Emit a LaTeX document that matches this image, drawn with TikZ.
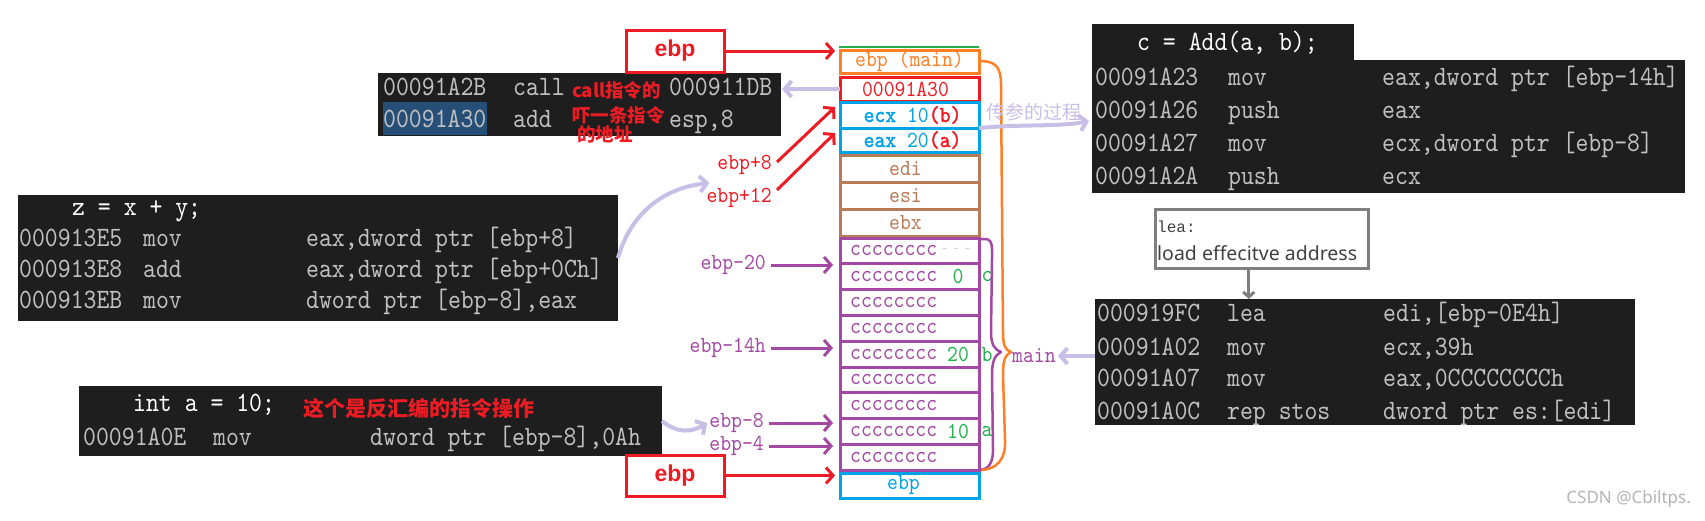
\documentclass[tikz,border=0pt]{standalone}
\usepackage{fontspec}
\usetikzlibrary{arrows.meta,calc}
\newfontfamily\codefont[FakeStretch=0.877]{lmmono10-regular.otf}
\newfontfamily\stackfont[FakeStretch=0.9, BoldFont=lmmono10-regular.otf, BoldFeatures={FakeBold=1.6}]{lmmono10-regular.otf}
\newfontfamily\cjk{Noto Sans CJK SC}
\newfontfamily\sansf{Liberation Sans}
\newfontfamily\notof{Noto Sans}
\newfontfamily\leamono{Liberation Mono}
\definecolor{codebg}{HTML}{1E1E1E}
\definecolor{codegray}{HTML}{C0C0C0}
\definecolor{selblue}{HTML}{264F78}
\definecolor{cred}{HTML}{ED1C24}
\definecolor{corange}{HTML}{FF7F27}
\definecolor{cblue}{HTML}{00A2E8}
\definecolor{cbrown}{HTML}{B97A57}
\definecolor{cpurple}{HTML}{A349A4}
\definecolor{cgreen}{HTML}{22B14C}
\definecolor{clav}{HTML}{C8BFE7}
\definecolor{cgrayb}{HTML}{7F7F7F}
\definecolor{wmgray}{HTML}{B4B4B4}
\tikzset{
  blk/.style={fill=codebg, draw=none, inner sep=0pt, outer sep=0pt, anchor=north west},
  ct/.style={font=\codefont\fontsize{28}{28}\selectfont, text=codegray, inner sep=0pt, anchor=base west},
  cth/.style={ct, text=white},
  cell/.style={draw, line width=3pt, minimum width=139pt, inner sep=0pt, outer sep=0pt, anchor=north west},
  st/.style={font=\stackfont\fontsize{23}{23}\selectfont, inner sep=0pt},
  lbl/.style={font=\stackfont\fontsize{23}{23}\selectfont, inner sep=0pt, anchor=east},
  redbox/.style={draw=cred, line width=3pt, minimum width=98pt, minimum height=42pt, inner sep=0pt, font=\sansf\bfseries\fontsize{23}{23}\selectfont, text=cred},
  tipb/.style={-{Straight Barb[length=7pt,width=16pt]}},
  redarr/.style={tipb, draw=cred, line width=3pt},
  parr/.style={tipb, draw=cpurple, line width=3pt},
  lavarr/.style={tipb, draw=clav, line width=4pt},
  grayarr/.style={-{Straight Barb[length=5pt,width=11pt]}, draw=cgrayb, line width=3pt},
  note/.style={font=\cjk\bfseries\fontsize{18.5}{18.5}\selectfont, text=cred, inner sep=0pt, anchor=west},
  leat/.style={font=\notof\fontsize{19.5}{19.5}\selectfont, text=black!75, inner sep=0pt, anchor=west},
}
\begin{document}
\begin{tikzpicture}[x=1pt,y=-1pt]
\useasboundingbox[fill=white] (0,0) rectangle (1705,520);

% ---------- code block 1 ----------
\node[blk, minimum width=403pt, minimum height=63pt] (b1) at (378,73) {};
\node[fill=selblue, inner sep=0pt, minimum width=104pt, minimum height=33pt, anchor=north west] (sel) at (383,102) {};
\node[ct] (b1r1a) at (383,95.5) {00091A2B};
\node[ct] (b1r1b) at (513,95.5) {call};
\node[ct] (b1r1c) at (669,95.5) {000911DB};
\node[ct] (b1r2a) at (383,127.5) {00091A30};
\node[ct] (b1r2b) at (513,127.5) {add};
\node[ct] (b1r2c) at (669,127.5) {esp,8};
\node[note] (n1) at (572,90) {call指令的};
\node[note] (n2) at (572,115) {吓一条指令};
\node[note] (n3) at (577,134) {的地址};

% ---------- code block 2 ----------
\node[blk, minimum width=600pt, minimum height=126pt] (b2) at (18,195) {};
\node[cth] (b2h) at (72,215.5) {z = x + y;};
\node[ct] (b2r1a) at (19,246.5) {000913E5};
\node[ct] (b2r1b) at (143,246.5) {mov};
\node[ct] (b2r1c) at (306,246.5) {eax,dword ptr [ebp+8]};
\node[ct] (b2r2a) at (19,277.5) {000913E8};
\node[ct] (b2r2b) at (143,277.5) {add};
\node[ct] (b2r2c) at (306,277.5) {eax,dword ptr [ebp+0Ch]};
\node[ct] (b2r3a) at (19,308.5) {000913EB};
\node[ct] (b2r3b) at (143,308.5) {mov};
\node[ct] (b2r3c) at (306,308.5) {dword ptr [ebp-8],eax};

% ---------- code block 3 ----------
\node[blk, minimum width=583pt, minimum height=70pt] (b3) at (79,386) {};
\node[cth] (b3h) at (133,411.5) {int a = 10;};
\node[note, font=\cjk\bfseries\fontsize{21}{21}\selectfont] (n4) at (303,408) {这个是反汇编的指令操作};
\node[ct] (b3r1a) at (83,445.5) {00091A0E};
\node[ct] (b3r1b) at (213,445.5) {mov};
\node[ct] (b3r1c) at (370,445.5) {dword ptr [ebp-8],0Ah};

% ---------- code block 4 ----------
\node[blk, minimum width=262pt, minimum height=37pt] (b4t) at (1092,24) {};
\node[blk, minimum width=593pt, minimum height=133pt] (b4) at (1092,60) {};
\node[cth] (b4h) at (1137,50.5) {c = Add(a, b);};
\node[ct] (b4r1a) at (1095,85.5) {00091A23};
\node[ct] (b4r1b) at (1228,85.5) {mov};
\node[ct] (b4r1c) at (1382,85.5) {eax,dword ptr [ebp-14h]};
\node[ct] (b4r2a) at (1095,118.5) {00091A26};
\node[ct] (b4r2b) at (1228,118.5) {push};
\node[ct] (b4r2c) at (1382,118.5) {eax};
\node[ct] (b4r3a) at (1095,151.5) {00091A27};
\node[ct] (b4r3b) at (1228,151.5) {mov};
\node[ct] (b4r3c) at (1382,151.5) {ecx,dword ptr [ebp-8]};
\node[ct] (b4r4a) at (1095,184.5) {00091A2A};
\node[ct] (b4r4b) at (1228,184.5) {push};
\node[ct] (b4r4c) at (1382,184.5) {ecx};

% ---------- code block 5 ----------
\node[blk, minimum width=540pt, minimum height=126pt] (b5) at (1095,299) {};
\node[ct] (b5r1a) at (1097,321.5) {000919FC};
\node[ct] (b5r1b) at (1227,321.5) {lea};
\node[ct] (b5r1c) at (1383,321.5) {edi,[ebp-0E4h]};
\node[ct] (b5r2a) at (1097,355.5) {00091A02};
\node[ct] (b5r2b) at (1227,355.5) {mov};
\node[ct] (b5r2c) at (1383,355.5) {ecx,39h};
\node[ct] (b5r3a) at (1097,386.5) {00091A07};
\node[ct] (b5r3b) at (1227,386.5) {mov};
\node[ct] (b5r3c) at (1383,386.5) {eax,0CCCCCCCCh};
\node[ct] (b5r4a) at (1097,419.5) {00091A0C};
\node[ct] (b5r4b) at (1227,419.5) {rep stos};
\node[ct] (b5r4c) at (1383,419.5) {dword ptr es:[edi]};

% ---------- lea note ----------
\node[draw=cgrayb, line width=2.5pt, minimum width=213pt, minimum height=59pt, inner sep=0pt, anchor=north west] (leab) at (1154,208) {};
\node[leat, font=\leamono\fontsize{16}{16}\selectfont] (lea1) at (1157,227) {lea:};
\node[leat] (lea2) at (1157,253) {load effecitve address};
\coordinate (g1) at ([xshift=-13pt]leab.south);
\draw[grayarr] (g1) -- (g1 |- b5.north);

% ---------- stack ----------
\draw[cgreen, line width=2pt] (839,47) -- (979,47);
\node[cell, draw=corange, minimum height=23pt] (om) at (840,50) {};
\node[cell, draw=cred, minimum height=24pt] (ra) at (840,77) {};
\node[cell, draw=cblue, minimum height=26pt] (ecx) at (840,102) {};
\node[cell, draw=cblue, minimum height=24pt] (eax) at (840,128) {};
\node[cell, draw=cbrown, minimum height=27pt] (edi) at (840,155) {};
\node[cell, draw=cbrown, minimum height=27pt] (esi) at (840,182) {};
\node[cell, draw=cbrown, minimum height=27pt] (ebx) at (840,209) {};
\foreach \i/\y in {1/238,2/263.8,3/289.6,4/315.4,5/341.2,6/367,7/392.8,8/418.6,9/444.4}{
  \node[cell, draw=cpurple, minimum height=25.8pt] (p\i) at (840,\y) {};
  \node[st, text=cpurple, anchor=west] (tp\i) at ($(p\i.west)+(10,0)$) {cccccccc};
}
\node[cell, draw=cblue, minimum height=25pt] (eb) at (840,473) {};

\node[st, text=corange] (tom) at (om.center) {ebp (main)};
\node[st, text=cred] (tra) at ($(ra.center)+(-4,0)$) {00091A30};
\node[st] (tecx) at ($(ecx.center)+(3,0)$) {\textcolor{cblue}{\bfseries ecx} \textcolor{cblue}{10}\textcolor{cred}{\bfseries(b)}};
\node[st] (teax) at ($(eax.center)+(3,0)$) {\textcolor{cblue}{\bfseries eax} \textcolor{cblue}{20}\textcolor{cred}{\bfseries(a)}};
\node[st, text=cbrown] (tedi) at ($(edi.center)+(-4,0)$) {edi};
\node[st, text=cbrown] (tesi) at ($(esi.center)+(-4,0)$) {esi};
\node[st, text=cbrown] (tebx) at ($(ebx.center)+(-4,0)$) {ebx};
\node[st, text=cblue] (teb) at ($(eb.center)+(-6,0)$) {ebp};
\node[st, text=clav, font=\stackfont\fontsize{12}{12}\selectfont] (dots) at ($(p1.east)+(-23,0)$) {- - -};
\node[st, text=cgreen] (v0) at ($(p2.east)+(-21,0)$) {0};
\node[st, text=cgreen] (v20) at ($(p5.east)+(-21,0)$) {20};
\node[st, text=cgreen] (v10) at ($(p8.east)+(-21,0)$) {10};
\node[st, text=cgreen] (lc) at ($(p2.east)+(8,0)$) {c};
\node[st, text=cgreen] (lb) at ($(p5.east)+(8,0)$) {b};
\node[st, text=cgreen] (la) at ($(p8.east)+(8,0)$) {a};
\node[st, text=cpurple, anchor=west] (mainl) at (1012,356) {main};

% braces
\draw[cpurple, line width=2.5pt, line join=round]
  (979,239) -- (986,239) .. controls (993,240) and (992,248) .. (992,258)
  -- (991,332) .. controls (991,345) and (995,350) .. (1001,352)
  .. controls (995,355) and (992,361) .. (992,374)
  -- (993,450) .. controls (993,462) and (989,470) .. (979,470);
\draw[corange, line width=2.5pt, line join=round]
  (979,61) .. controls (995,61) and (1001,66) .. (1001,85)
  -- (1003,332) .. controls (1003,345) and (1005,350) .. (1011,352)
  .. controls (1005,355) and (1003,360) .. (1003,375)
  -- (1005,440) .. controls (1006,460) and (996,469) .. (982,470);

% ---------- labels ----------
\node[redbox] (ebpT) at (675,51) {ebp};
\node[redbox, minimum height=41pt] (ebpB) at (675,475.5) {ebp};
\node[lbl, text=cred] (ep8) at (772,165) {ebp+8};
\node[lbl, text=cred] (ep12) at (772,198) {ebp+12};
\node[lbl, text=cpurple] (l20) at (766,265) {ebp-20};
\node[lbl, text=cpurple] (l14) at (766,348) {ebp-14h};
\node[lbl, text=cpurple] (l8) at (764,423) {ebp-8};
\node[lbl, text=cpurple] (l4) at (764,446) {ebp-4};
\node[font=\cjk\fontsize{19}{19}\selectfont, text=clav, inner sep=0pt] (cc) at (1034,112) {传参的过程};
\node[font=\notof\fontsize{17}{17}\selectfont, text=wmgray, inner sep=0pt, anchor=east] (wm) at (1691,499) {CSDN @Cbiltps.};

% ---------- arrows ----------
\draw[redarr, shorten >=5pt] (ebpT.east) -- (ebpT.east -| om.west);
\draw[redarr, shorten >=5pt] (ebpB.east) -- (ebpB.east -| eb.west);
\draw[redarr] ($(ep8.east)+(5,-3)$) -- ($(ecx.north west)+(-5,5)$);
\draw[redarr] ($(ep12.east)+(5,-8)$) -- ($(eax.north west)+(-5,5)$);
\draw[parr, shorten <=5pt, shorten >=7pt] (l20.east) -- (l20.east -| p2.west);
\draw[parr, shorten <=5pt, shorten >=7pt] (l14.east) -- (l14.east -| p5.west);
\draw[parr, shorten <=5pt, shorten >=7pt] (l8.east) -- (l8.east -| p8.west);
\draw[parr, shorten <=5pt, shorten >=7pt] (l4.east) -- (l4.east -| p9.west);
\draw[lavarr, shorten >=1pt] (ra.west) -- (ra.west -| b1.east);
\draw[lavarr] (eax.north east) .. controls (1020,124) and (1060,127) .. ($(b4.north west)+(-3,61)$);
\draw[lavarr] (b2.east) .. controls (630,215) and (662,188) .. ($(ep12.west)+(3,-15)$);
\draw[lavarr] (b3.east) .. controls (678,434) and (692,432) .. ($(l8.west)+(-2,0)$);
\draw[lavarr, shorten >=2pt] (b5.west |- mainl.east) -- (mainl.east);
\end{tikzpicture}
\end{document}
